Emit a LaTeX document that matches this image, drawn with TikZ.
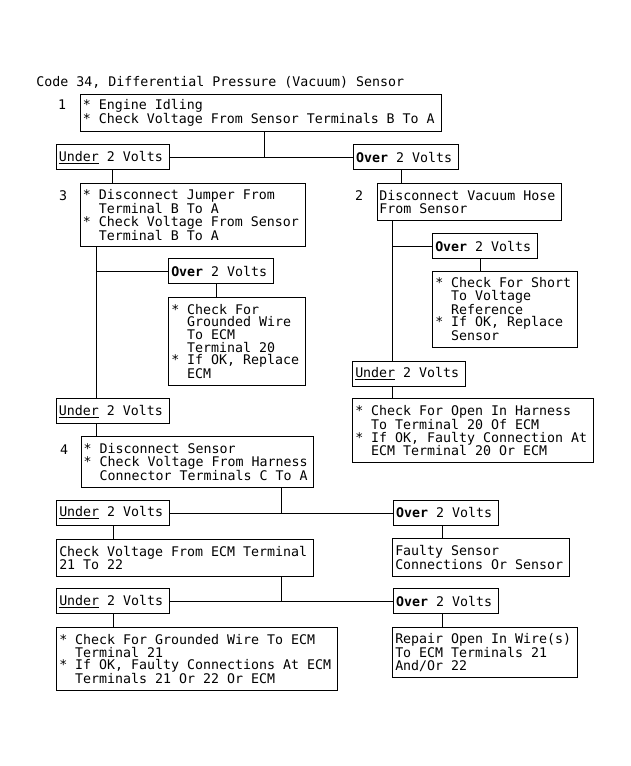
\documentclass[tikz,border=0pt]{standalone}
\usepackage{fontspec}
\newfontfamily\chartmono{DejaVu Sans Mono}
\newcommand{\chartfont}{\chartmono\fontsize{13.28pt}{12.6pt}\selectfont}
\newcommand{\ind}{\hphantom{*\ }}
\usetikzlibrary{positioning}

\begin{document}
\begin{tikzpicture}[
    x=1pt, y=-1pt,
    line width=0.9pt,
    stepbox/.style={rectangle, draw, anchor=north west, align=flush left,
                    inner xsep=2.5pt, inner ysep=0pt, font=\chartfont},
    voltsbox/.style={stepbox, minimum height=25pt},
    underbox/.style={voltsbox, text width=107.5pt},
    overbox/.style={voltsbox, text width=99.5pt},
    stepnum/.style={inner sep=0pt, anchor=base, font=\chartfont}
]
\useasboundingbox (0,0) rectangle (631,766);

\node[stepnum, anchor=base west] (title) at (36,86) {Code 34, Differential Pressure (Vacuum) Sensor};

% step 1
\node[stepnum] (n1) at (62,109.5) {1};
\node[stepbox, text width=355.5pt, minimum height=37.5pt] (idle) at (80,93.5)
    {* Engine Idling\\{}* Check Voltage From Sensor Terminals B To A};
\node[underbox] (under1) at (56,144.3) {\underline{Under} 2 Volts};
\node[overbox, right=183.8pt of under1] (over1) {\textbf{Over} 2 Volts};

% step 3
\node[stepnum] (n3) at (63,200) {3};
\node[stepbox, text width=220pt, minimum height=63pt] (jumper) at (80,183)
    {* Disconnect Jumper From\\\ind Terminal B To A\\{}* Check Voltage From Sensor\\\ind Terminal B To A};
\node[overbox] (over3) at (168.3,258.3) {\textbf{Over} 2 Volts};
\node[stepbox, text width=131.7pt, minimum height=88.3pt] (gnd20) at (168.3,296.7)
    {* Check For\\\ind Grounded Wire\\\ind To ECM\\\ind Terminal 20\\{}* If OK, Replace\\\ind ECM};
\node[underbox] (under3) at (56,398.3) {\underline{Under} 2 Volts};

% step 2
\node[stepnum] (n2) at (359,200) {2};
\node[stepbox, text width=179.5pt, minimum height=37.3pt] (hose) at (376.5,182.7)
    {Disconnect Vacuum Hose\\From Sensor};
\node[overbox] (over2) at (432.3,233.3) {\textbf{Over} 2 Volts};
\node[stepbox, text width=139.4pt, minimum height=76pt] (short) at (432.3,270.7)
    {* Check For Short\\\ind To Voltage\\\ind Reference\\{}* If OK, Replace\\\ind Sensor};
\node[underbox] (under2) at (352.3,360.7) {\underline{Under} 2 Volts};
\node[stepbox, text width=236pt, minimum height=64pt] (open20) at (352.3,398.3)
    {* Check For Open In Harness\\\ind To Terminal 20 Of ECM\\{}* If OK, Faulty Connection At\\\ind ECM Terminal 20 Or ECM};

% step 4
\node[stepnum] (n4) at (64,454) {4};
\node[stepbox, text width=227.6pt, minimum height=51.3pt] (harness) at (80.7,436)
    {* Disconnect Sensor\\{}* Check Voltage From Harness\\\ind Connector Terminals C To A};
\node[underbox] (under4) at (56.3,500) {\underline{Under} 2 Volts};
\node[overbox, right=223.5pt of under4] (over4) {\textbf{Over} 2 Volts};
\node[stepbox, text width=251.4pt, minimum height=37pt] (ecm) at (56.3,539)
    {Check Voltage From ECM Terminal\\21 To 22};
\node[stepbox, text width=172pt, minimum height=37.7pt] (faulty) at (392.3,538.3)
    {Faulty Sensor\\Connections Or Sensor};
\node[underbox] (under5) at (56.3,588.3) {\underline{Under} 2 Volts};
\node[overbox, right=223.5pt of under5] (over5) {\textbf{Over} 2 Volts};
\node[stepbox, text width=275.4pt, minimum height=62.7pt] (gnd21) at (56.3,627.3)
    {* Check For Grounded Wire To ECM\\\ind Terminal 21\\{}* If OK, Faulty Connections At ECM\\\ind Terminals 21 Or 22 Or ECM};
\node[stepbox, text width=180pt, minimum height=50pt] (repair) at (392.3,627.3)
    {Repair Open In Wire(s)\\To ECM Terminals 21\\And/Or 22};

% connectors
\draw (under1) -- (over1);
\draw ([xshift=4pt]idle.south) -- ([xshift=4pt]idle.south |- under1.east);
\draw (under1.south) -- (under1.south |- jumper.north);
\draw ([xshift=-4pt]over1.south) -- ([xshift=-4pt]over1.south |- hose.north);

\draw ([xshift=16.7pt]jumper.south west) coordinate (t3) -- (t3 |- under3.north);
\draw (t3 |- over3.west) -- (over3.west);
\draw ([xshift=-4.5pt]over3.south) -- ([xshift=-4.5pt]over3.south |- gnd20.north);
\draw (t3 |- under3.south) -- (t3 |- harness.north);

\draw ([xshift=16.2pt]hose.south west) coordinate (t2) -- (t2 |- under2.north);
\draw (t2 |- over2.west) -- (over2.west);
\draw ([xshift=-4.5pt]over2.south) -- ([xshift=-4.5pt]over2.south |- short.north);
\draw (t2 |- under2.south) -- (t2 |- open20.north);

\draw ([xshift=-32.6pt]harness.south east) coordinate (t4) -- (t4 |- under4.east);
\draw (under4) -- (over4);
\draw (under4.south) -- (under4.south |- ecm.north);
\draw ([xshift=-3.8pt]over4.south) -- ([xshift=-3.8pt]over4.south |- faulty.north);
\draw (t4 |- ecm.south) -- (t4 |- under5.east);
\draw (under5) -- (over5);
\draw (under5.south) -- (under5.south |- gnd21.north);
\draw ([xshift=-3.8pt]over5.south) -- ([xshift=-3.8pt]over5.south |- repair.north);
\end{tikzpicture}
\end{document}
